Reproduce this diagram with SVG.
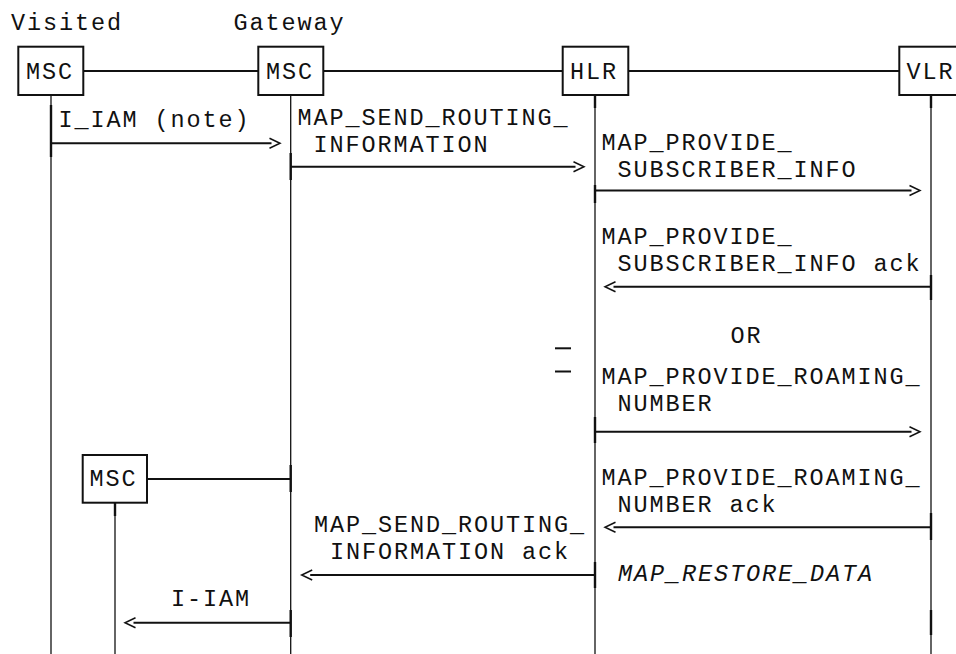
<svg xmlns="http://www.w3.org/2000/svg" width="956" height="654" viewBox="0 0 956 654">
<style>
text{font-family:"Liberation Mono","DejaVu Sans Mono",monospace;font-size:23.5px;letter-spacing:1.9px;fill:#111;white-space:pre}
.it{font-style:italic}
.box{fill:#fff;stroke:#111;stroke-width:2}
.link{stroke:#111;stroke-width:2;fill:none}
.life{stroke:#111;stroke-width:1.3;fill:none}
.tick{stroke:#111;stroke-width:2.4;fill:none}
.msg{stroke:#111;stroke-width:2;fill:none;marker-end:url(#chev)}
</style>
<defs>
<marker id="chev" markerUnits="userSpaceOnUse" markerWidth="14" markerHeight="12" refX="2" refY="5" orient="auto" overflow="visible">
<path d="M0,0 L10.5,5 L0,10" fill="none" stroke="#111" stroke-width="1.5"/>
</marker>
</defs>
<rect width="956" height="654" fill="#fff"/>
<text x="11" y="30">Visited</text>
<text x="233.5" y="30">Gateway</text>
<g id="lifelines">
<line class="life" x1="51" y1="95" x2="51" y2="654"/>
<line class="life" x1="290.7" y1="95" x2="290.7" y2="654"/>
<line class="life" x1="595" y1="95" x2="595" y2="654"/>
<line class="life" x1="931" y1="95" x2="931" y2="654"/>
<line class="life" x1="115" y1="503" x2="115" y2="654"/>
<line class="tick" x1="51" y1="105" x2="51" y2="157"/>
<line class="tick" x1="290.7" y1="153" x2="290.7" y2="180"/>
<line class="tick" x1="290.7" y1="465" x2="290.7" y2="492"/>
<line class="tick" x1="290.7" y1="610" x2="290.7" y2="637"/>
<line class="tick" x1="595" y1="95" x2="595" y2="108"/>
<line class="tick" x1="595" y1="185" x2="595" y2="203"/>
<line class="tick" x1="595" y1="417" x2="595" y2="443"/>
<line class="tick" x1="595" y1="562" x2="595" y2="588"/>
<line class="tick" x1="931" y1="95" x2="931" y2="108"/>
<line class="tick" x1="931" y1="275" x2="931" y2="300"/>
<line class="tick" x1="931" y1="513" x2="931" y2="540"/>
<line class="tick" x1="931" y1="610" x2="931" y2="635"/>
<line class="tick" x1="115" y1="503" x2="115" y2="516"/>
</g>
<g id="connectors">
<line class="link" x1="83.3" y1="71" x2="258.3" y2="71"/>
<line class="link" x1="323.3" y1="71" x2="562.7" y2="71"/>
<line class="link" x1="628.3" y1="71" x2="899.3" y2="71"/>
<line class="link" x1="147" y1="479" x2="290.7" y2="479"/>
<line class="msg" x1="51" y1="143.3" x2="271.5" y2="143.3"/>
<line class="msg" x1="290.7" y1="166.7" x2="575.5" y2="166.7"/>
<line class="msg" x1="595" y1="190.5" x2="911.5" y2="190.5"/>
<line class="msg" x1="931" y1="286.7" x2="613.5" y2="286.7"/>
<line class="msg" x1="595" y1="431.7" x2="911.5" y2="431.7"/>
<line class="msg" x1="931" y1="527.3" x2="613.5" y2="527.3"/>
<line class="msg" x1="595" y1="575" x2="310.2" y2="575"/>
<line class="msg" x1="290.7" y1="622.7" x2="133.5" y2="622.7"/>
<line class="link" x1="555" y1="348.3" x2="571" y2="348.3" stroke-width="1.3"/>
<line class="link" x1="555" y1="371.5" x2="571" y2="371.5" stroke-width="1.3"/>
</g>
<g id="visited-msc">
<rect class="box" x="18.3" y="46.7" width="65" height="48.3"/>
<text x="26" y="79">MSC</text>
</g>
<g id="gateway-msc">
<rect class="box" x="258.3" y="46.7" width="65" height="48.3"/>
<text x="266" y="79">MSC</text>
</g>
<g id="hlr">
<rect class="box" x="562.7" y="46.7" width="65.6" height="48.3"/>
<text x="570" y="79">HLR</text>
</g>
<g id="vlr">
<rect class="box" x="899.3" y="46.7" width="70" height="48.3"/>
<text x="906.5" y="79">VLR</text>
</g>
<g id="msc2">
<rect class="box" x="82.7" y="455" width="64.3" height="47.7"/>
<text x="89.5" y="485.7">MSC</text>
</g>
<g id="labels">
<text x="58.5" y="126.7">I_IAM (note)</text>
<text x="297.5" y="125">MAP_SEND_ROUTING_</text>
<text x="297.5" y="151.8"> INFORMATION</text>
<text x="601.5" y="149.7">MAP_PROVIDE_</text>
<text x="601.5" y="176.5"> SUBSCRIBER_INFO</text>
<text x="601.5" y="244.3">MAP_PROVIDE_</text>
<text x="601.5" y="271.1"> SUBSCRIBER_INFO ack</text>
<text x="730.5" y="342.7">OR</text>
<text x="601.5" y="383.8">MAP_PROVIDE_ROAMING_</text>
<text x="601.5" y="410.6"> NUMBER</text>
<text x="601.5" y="485">MAP_PROVIDE_ROAMING_</text>
<text x="601.5" y="511.8"> NUMBER ack</text>
<text x="314" y="532.4">MAP_SEND_ROUTING_</text>
<text x="314" y="559.2"> INFORMATION ack</text>
<text class="it" x="618" y="580.7">MAP_RESTORE_DATA</text>
<text x="171" y="605.7">I-IAM</text>
</g>
</svg>
